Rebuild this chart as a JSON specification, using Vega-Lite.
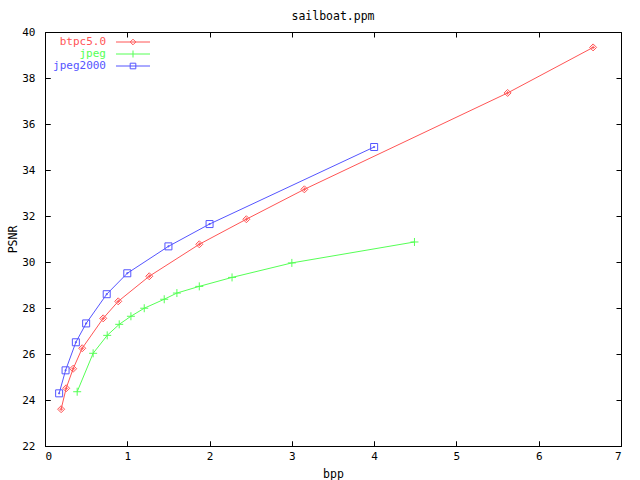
{
  "$schema": "https://vega.github.io/schema/vega-lite/v6.json",
  "width": 576,
  "height": 414,
  "autosize": {"type": "none"},
  "padding": {"left": 45, "top": 32, "right": 19, "bottom": 34},
  "background": "white",
  "title": {
    "text": "sailboat.ppm",
    "font": "DejaVu Sans Mono",
    "fontSize": 11.5,
    "fontWeight": "normal",
    "color": "black",
    "offset": 4
  },
  "data": {
    "values": [
      {"codec": "btpc5.0", "bpp": 0.196, "psnr": 23.6},
      {"codec": "btpc5.0", "bpp": 0.257, "psnr": 24.51},
      {"codec": "btpc5.0", "bpp": 0.342, "psnr": 25.36},
      {"codec": "btpc5.0", "bpp": 0.452, "psnr": 26.25},
      {"codec": "btpc5.0", "bpp": 0.707, "psnr": 27.55},
      {"codec": "btpc5.0", "bpp": 0.89, "psnr": 28.29},
      {"codec": "btpc5.0", "bpp": 1.267, "psnr": 29.38},
      {"codec": "btpc5.0", "bpp": 1.875, "psnr": 30.77},
      {"codec": "btpc5.0", "bpp": 2.447, "psnr": 31.86},
      {"codec": "btpc5.0", "bpp": 3.152, "psnr": 33.16},
      {"codec": "btpc5.0", "bpp": 5.622, "psnr": 37.35},
      {"codec": "btpc5.0", "bpp": 6.661, "psnr": 39.33},
      {"codec": "jpeg", "bpp": 0.391, "psnr": 24.36},
      {"codec": "jpeg", "bpp": 0.585, "psnr": 26.03},
      {"codec": "jpeg", "bpp": 0.756, "psnr": 26.81},
      {"codec": "jpeg", "bpp": 0.902, "psnr": 27.29},
      {"codec": "jpeg", "bpp": 1.044, "psnr": 27.64},
      {"codec": "jpeg", "bpp": 1.206, "psnr": 27.99},
      {"codec": "jpeg", "bpp": 1.449, "psnr": 28.38},
      {"codec": "jpeg", "bpp": 1.603, "psnr": 28.65},
      {"codec": "jpeg", "bpp": 1.875, "psnr": 28.94},
      {"codec": "jpeg", "bpp": 2.273, "psnr": 29.33},
      {"codec": "jpeg", "bpp": 3.0, "psnr": 29.96},
      {"codec": "jpeg", "bpp": 4.49, "psnr": 30.87},
      {"codec": "jpeg2000", "bpp": 0.172, "psnr": 24.29},
      {"codec": "jpeg2000", "bpp": 0.25, "psnr": 25.29},
      {"codec": "jpeg2000", "bpp": 0.375, "psnr": 26.51},
      {"codec": "jpeg2000", "bpp": 0.5, "psnr": 27.33},
      {"codec": "jpeg2000", "bpp": 0.75, "psnr": 28.6},
      {"codec": "jpeg2000", "bpp": 1.0, "psnr": 29.51},
      {"codec": "jpeg2000", "bpp": 1.5, "psnr": 30.68},
      {"codec": "jpeg2000", "bpp": 2.0, "psnr": 31.65},
      {"codec": "jpeg2000", "bpp": 4.0, "psnr": 35.0}
    ]
  },
  "encoding": {
    "x": {
      "field": "bpp",
      "type": "quantitative",
      "scale": {"domain": [0, 7], "nice": false, "zero": false},
      "axis": {
        "values": [0, 1, 2, 3, 4, 5, 6, 7],
        "format": "d",
        "title": "bpp",
        "labelPadding": 4,
        "titlePadding": 7,
        "ticks": true,
        "tickSize": 5,
        "offset": -5,
        "tickColor": "black",
        "domain": false,
        "grid": true,
        "gridColor": "black",
        "gridOpacity": 1,
        "gridWidth": 1,
        "gridDash": [5, 404]
      }
    },
    "y": {
      "field": "psnr",
      "type": "quantitative",
      "scale": {"domain": [22, 40], "nice": false, "zero": false},
      "axis": {
        "values": [22, 24, 26, 28, 30, 32, 34, 36, 38, 40],
        "format": "d",
        "title": "PSNR",
        "labelPadding": 10,
        "titlePadding": 3,
        "ticks": true,
        "tickSize": 5,
        "offset": -5,
        "tickColor": "black",
        "domain": false,
        "grid": true,
        "gridColor": "black",
        "gridOpacity": 1,
        "gridWidth": 1,
        "gridDash": [5, 566]
      }
    }
  },
  "layer": [
    {
      "mark": {"type": "line", "strokeWidth": 1},
      "encoding": {
        "color": {
          "field": "codec",
          "type": "nominal",
          "scale": {"domain": ["btpc5.0", "jpeg", "jpeg2000"], "range": ["#ff5555", "#55ff55", "#5555ff"]},
          "legend": {
            "orient": "none",
            "legendX": 82.5,
            "legendY": 4.5,
            "title": null,
            "padding": 0,
            "rowPadding": 0,
            "symbolSize": 49,
            "symbolStrokeWidth": 1,
            "symbolOpacity": 1,
            "labelFont": "DejaVu Sans Mono",
            "labelFontSize": 11,
            "encode": {
              "labels": {
                "update": {
                  "x": {"value": -21.5},
                  "align": {"value": "right"},
                  "fill": {"signal": "scale('color', datum.value)"}
                }
              },
              "symbols": {
                "update": {
                  "shape": {"signal": "datum.value === 'btpc5.0' ? 'M-4.86,0H4.86M0,-0.8L0.8,0L0,0.8L-0.8,0Z' : datum.value === 'jpeg' ? 'M-4.86,0H4.86M0,-1V1' : 'M-4.86,0H4.86M-0.8,-0.8H0.8V0.8H-0.8Z'"},
                  "stroke": {"signal": "scale('color', datum.value)"},
                  "fill": {"value": "transparent"},
                  "strokeWidth": {"value": 1},
                  "opacity": {"value": 1}
                }
              }
            }
          }
        }
      }
    },
    {
      "transform": [{"filter": "datum.codec === 'btpc5.0'"}],
      "mark": {"type": "point", "filled": false, "strokeWidth": 1, "size": 49, "opacity": 1, "color": "#ff5555", "shape": "M0,-1L1,0L0,1L-1,0ZM-0.5,0H0.5M0,-0.5V0.5"}
    },
    {
      "transform": [{"filter": "datum.codec === 'jpeg'"}],
      "mark": {"type": "point", "filled": false, "strokeWidth": 1, "size": 64, "opacity": 1, "color": "#55ff55", "shape": "M-1,0H1M0,-1V1"}
    },
    {
      "transform": [{"filter": "datum.codec === 'jpeg2000'"}],
      "mark": {"type": "point", "filled": false, "strokeWidth": 1, "size": 49, "opacity": 1, "color": "#5555ff", "shape": "M-1,-1H1V1H-1ZM-0.15,-0.15H0.15V0.15H-0.15Z"}
    }
  ],
  "config": {
    "view": {"stroke": "black", "strokeWidth": 1},
    "axis": {
      "labelColor": "black",
      "labelFont": "DejaVu Sans Mono",
      "labelFontSize": 11,
      "titleColor": "black",
      "titleFont": "DejaVu Sans Mono",
      "titleFontSize": 11.5,
      "titleFontWeight": "normal"
    }
  }
}
